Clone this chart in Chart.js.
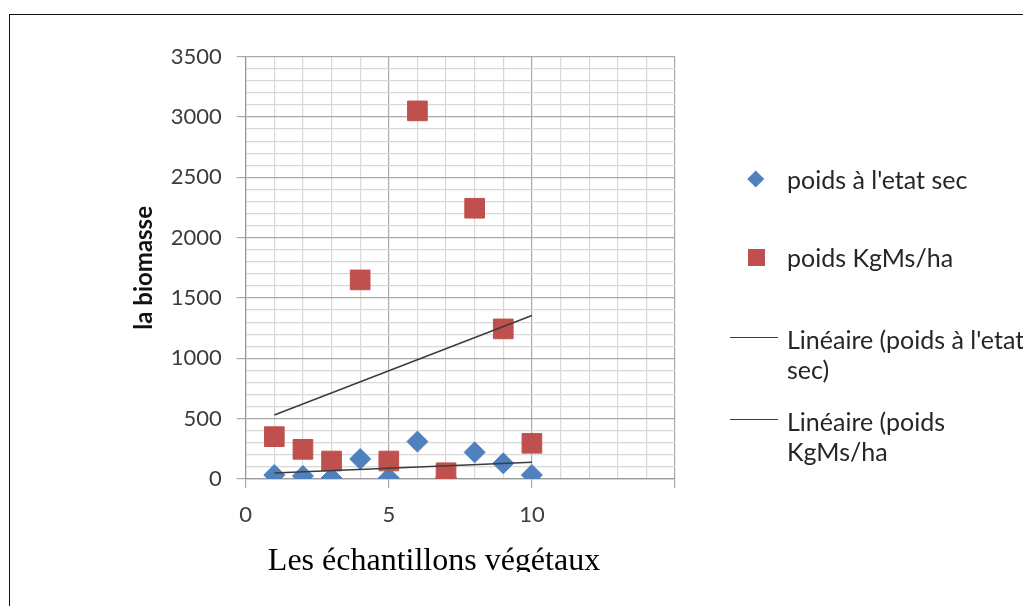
<!DOCTYPE html>
<html>
<head>
<meta charset="utf-8">
<script src="https://cdn.jsdelivr.net/npm/chart.js@4/dist/chart.umd.min.js"></script>
<style>
  html, body { margin: 0; padding: 0; background: #fff; }
  #page { position: relative; width: 1023px; height: 606px; overflow: hidden; }
  #frame { position: absolute; left: 8.5px; top: 13.5px; width: 1100px; height: 700px;
           border-top: 1.5px solid #111; border-left: 1.5px solid #111; }
  #chart { position: absolute; left: 0; top: 0; }
  #caption { position: absolute; left: 234px; width: 400px; top: 543px; height: 29px; overflow: hidden;
             text-align: center; font: 32px/32px "Liberation Serif", "Times New Roman", serif; color: #000; white-space: nowrap; }
  .lg-row { position: absolute; left: 787px; font: 25px/30px Lato, sans-serif; color: #262626; white-space: pre; }
  .lg-mark { position: absolute; }
</style>
</head>
<body>
<div id="page">
  <div id="frame"></div>
  <canvas id="chart" width="1023" height="606"></canvas>
  <div id="legend"></div>
  <div id="caption">Les échantillons végétaux</div>
</div>
<script>
// values
const sampleX = [1, 2, 3, 4, 5, 6, 7, 8, 9, 10];
const poidsSec = [33, 25, 8, 166, 8, 310, 10, 221, 130, 33];
const poidsKg = [351, 246, 149, 1650, 149, 3051, 52, 2244, 1244, 296];
const trendX = [1, 10];
const trendSec = [50, 139];
const trendKg = [530, 1355];
const xTickLabels = [0, 5, 10];
const yTickLabels = [0, 500, 1000, 1500, 2000, 2500, 3000, 3500];
const seriesLabels = ["poids à l'etat sec", 'poids KgMs/ha', "Linéaire (poids à l'etat\nsec)", 'Linéaire (poids\nKgMs/ha'];

const blue = '#4F81BD';
const red = '#C0504D';
const trendColor = '#3c3c3c';
const majorGrid = '#a9a9a9';
const minorGrid = '#d8d8d8';

const toPoints = (xs, ys) => xs.map((x, i) => ({ x: x, y: ys[i] }));

Chart.defaults.font.family = 'Lato';

const chart = new Chart(document.getElementById('chart'), {
  type: 'scatter',
  data: {
    datasets: [
      {
        label: seriesLabels[0],
        data: toPoints(sampleX, poidsSec),
        pointStyle: 'rectRot',
        pointRadius: 10.5,
        backgroundColor: blue,
        borderColor: blue,
        pointBorderWidth: 1,
        order: 2
      },
      {
        label: seriesLabels[1],
        data: toPoints(sampleX, poidsKg),
        pointStyle: 'rect',
        pointRadius: 13.9,
        backgroundColor: red,
        borderColor: red,
        pointBorderWidth: 1,
        order: 1
      },
      {
        label: seriesLabels[2],
        data: toPoints(trendX, trendSec),
        showLine: true,
        pointRadius: 0,
        borderColor: trendColor,
        borderWidth: 1.5,
        order: 0
      },
      {
        label: seriesLabels[3],
        data: toPoints(trendX, trendKg),
        showLine: true,
        pointRadius: 0,
        borderColor: trendColor,
        borderWidth: 1.5,
        order: 0
      }
    ]
  },
  options: {
    responsive: false,
    animation: false,
    layout: { padding: { left: 126, top: 56.7, right: 348, bottom: 77 } },
    plugins: { legend: { display: false }, tooltip: { enabled: false } },
    scales: {
      x: {
        type: 'linear',
        min: 0,
        max: 15,
        afterFit: scale => { scale.height = 50; },
        ticks: {
          stepSize: 1,
          autoSkip: false,
          maxRotation: 0,
          padding: 14,
          color: '#3c3c3c',
          font: { size: 22 },
          callback: v => xTickLabels.includes(v) ? String(v) : ''
        },
        grid: {
          tickLength: 9,
          lineWidth: 1.2,
          color: c => (c.tick && c.tick.value % 5 === 0) ? majorGrid : minorGrid,
          tickColor: c => (c.tick && c.tick.value % 5 === 0) ? majorGrid : 'rgba(0,0,0,0)'
        },
        border: { color: '#9a9a9a', width: 1.2 }
      },
      y: {
        min: 0,
        max: 3500,
        afterFit: scale => { scale.width = 119.7; },
        title: {
          display: true,
          text: 'la biomasse',
          color: '#111',
          font: { size: 24, weight: 'bold' }
        },
        ticks: {
          stepSize: 100,
          autoSkip: false,
          padding: 15,
          color: '#3c3c3c',
          font: { size: 22 },
          callback: v => yTickLabels.includes(v) ? String(v) : ''
        },
        grid: {
          tickLength: 9,
          lineWidth: 1.2,
          color: c => (c.tick && c.tick.value % 500 === 0) ? majorGrid : minorGrid,
          tickColor: c => (c.tick && c.tick.value % 500 === 0) ? majorGrid : 'rgba(0,0,0,0)'
        },
        border: { color: '#9a9a9a', width: 1.2 }
      }
    }
  }
});

// legend drawn as html, built from the chart's datasets
const legendRowY = [179, 257, 339, 421];
const legend = document.getElementById('legend');
chart.data.datasets.forEach((ds, i) => {
  const row = document.createElement('div');
  row.className = 'lg-row';
  row.style.top = (legendRowY[i] - 15) + 'px';
  row.textContent = ds.label;
  legend.appendChild(row);

  const mark = document.createElement('div');
  mark.className = 'lg-mark';
  if (ds.pointStyle === 'rectRot') {
    Object.assign(mark.style, { left: '750px', top: (legendRowY[i] - 5.75) + 'px', width: '11.5px', height: '11.5px',
      background: ds.backgroundColor, transform: 'rotate(45deg)' });
  } else if (ds.pointStyle === 'rect') {
    Object.assign(mark.style, { left: '747.5px', top: (legendRowY[i] - 8.5) + 'px', width: '17px', height: '17px',
      background: ds.backgroundColor });
  } else {
    Object.assign(mark.style, { left: '730px', top: (legendRowY[i] - 2.5) + 'px', width: '48px', height: '1.5px',
      background: ds.borderColor });
  }
  legend.appendChild(mark);
});
</script>
</body>
</html>
